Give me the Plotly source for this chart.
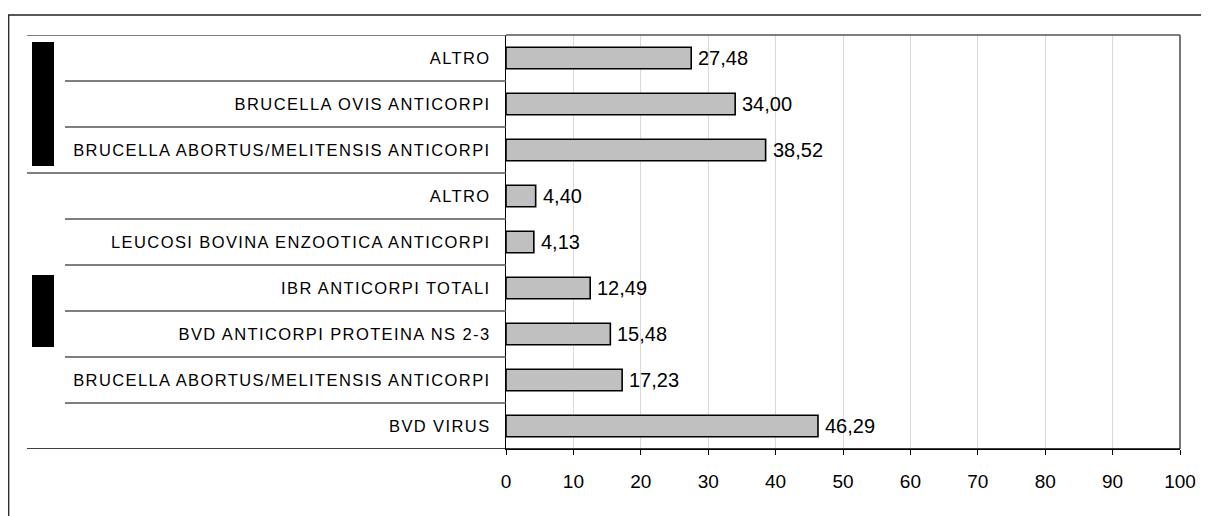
import plotly.graph_objects as go

# ---- data (top to bottom as in the chart) ----
categories = [
    "ALTRO",
    "BRUCELLA OVIS ANTICORPI",
    "BRUCELLA ABORTUS/MELITENSIS ANTICORPI",
    "ALTRO",
    "LEUCOSI BOVINA ENZOOTICA ANTICORPI",
    "IBR ANTICORPI TOTALI",
    "BVD ANTICORPI PROTEINA NS 2-3",
    "BRUCELLA ABORTUS/MELITENSIS ANTICORPI",
    "BVD VIRUS",
]
values = [27.48, 34.00, 38.52, 4.40, 4.13, 12.49, 15.48, 17.23, 46.29]
group_sizes = [3, 6]          # rows per group, top to bottom
x_ticks = [0, 10, 20, 30, 40, 50, 60, 70, 80, 90, 100]

FONT = "Liberation Sans, Arial, sans-serif"
n = len(categories)
ypos = [n - 1 - i for i in range(n)]   # top row gets highest index
labels = [f"{v:.2f}".replace(".", ",") for v in values]
ticktext = [f'<span style="letter-spacing:1.4px">{c}</span>' for c in categories]

fig = go.Figure()
fig.add_trace(go.Bar(
    x=values, y=ypos, orientation="h", width=0.47,
    marker=dict(color="#C0C0C0", line=dict(color="black", width=1.6)),
    hoverinfo="skip",
))

annotations = []
for v, y, t in zip(values, ypos, labels):
    annotations.append(dict(x=v, y=y, xref="x", yref="y", text=t, showarrow=False,
                            xanchor="left", yanchor="middle", xshift=5,
                            font=dict(family=FONT, size=20, color="black")))

# page body has an 8px margin, so the figure is placed at (8, 8)
OFF = 8
W, H = 1209 - OFF, 516 - OFF
L, R, T, B = 506 - OFF, 1180 - OFF, 35 - OFF, 449 - OFF
PW, PH = R - L, B - T
def px(p):
    return (p - OFF - L) / PW

shapes = []
line_col = "#555555"
# row separators
boundaries = [y + 0.5 for y in ypos] + [ypos[-1] - 0.5]
group_edges = {n - 1 + 0.5}
acc = 0
for g in group_sizes:
    acc += g
    group_edges.add(n - 1 - acc + 0.5)
for b in boundaries:
    x0 = px(27) if b in group_edges else px(65)
    shapes.append(dict(type="line", xref="paper", yref="y", x0=x0, x1=0, y0=b, y1=b,
                       line=dict(color=line_col if b != ypos[-1] - 0.5 else "black", width=1.3)))
# plot-area borders
shapes.append(dict(type="line", xref="paper", yref="paper", x0=0, x1=1, y0=1, y1=1,
                   line=dict(color=line_col, width=1.3)))
shapes.append(dict(type="line", xref="paper", yref="paper", x0=1, x1=1, y0=0, y1=1,
                   line=dict(color=line_col, width=1.6)))
shapes.append(dict(type="line", xref="paper", yref="paper", x0=0, x1=1, y0=0, y1=0,
                   line=dict(color="black", width=1.3)))

# black group markers
start = n - 1 + 0.5
half = [1.35, 0.78]
for g, h in zip(group_sizes, half):
    c = start - g / 2
    shapes.append(dict(type="rect", xref="paper", yref="y", x0=px(32), x1=px(54),
                       y0=c - h, y1=c + h, fillcolor="black", line=dict(width=0)))
    start -= g

# outer frame (top and left)
top_y = 1 + (T - (15 - OFF)) / PH
shapes.append(dict(type="path", xref="paper", yref="paper",
                   path=f"M {px(8.7)} {-(H - B) / PH - 0.02} L {px(8.7)} {top_y} L {px(1215)} {top_y}",
                   line=dict(color="#222222", width=1.3)))

fig.update_layout(
    width=W, height=H,
    margin=dict(l=L, r=W - R, t=T, b=H - B, autoexpand=False),
    paper_bgcolor="white", plot_bgcolor="white",
    showlegend=False,
    font=dict(family=FONT, color="black"),
    annotations=annotations,
    shapes=shapes,
    bargap=0.5,
)
fig.update_xaxes(range=[0, 100], tickvals=x_ticks, ticktext=[str(t) for t in x_ticks],
                 showgrid=True, gridcolor="#D9D9D9", gridwidth=1,
                 showline=True, linecolor="black", linewidth=1.3,
                 ticks="outside", ticklen=5, tickcolor="black", tickwidth=1,
                 ticklabelstandoff=10,
                 tickfont=dict(family=FONT, size=19, color="black"),
                 zeroline=False, fixedrange=True)
fig.update_yaxes(range=[-0.5, n - 0.5], tickvals=ypos, ticktext=ticktext,
                 showgrid=False, zeroline=False,
                 showline=True, linecolor="black", linewidth=1.3,
                 ticks="", ticklabelstandoff=11,
                 tickfont=dict(family=FONT, size=16.5, color="black"),
                 fixedrange=True)

fig.write_html("out.html")
